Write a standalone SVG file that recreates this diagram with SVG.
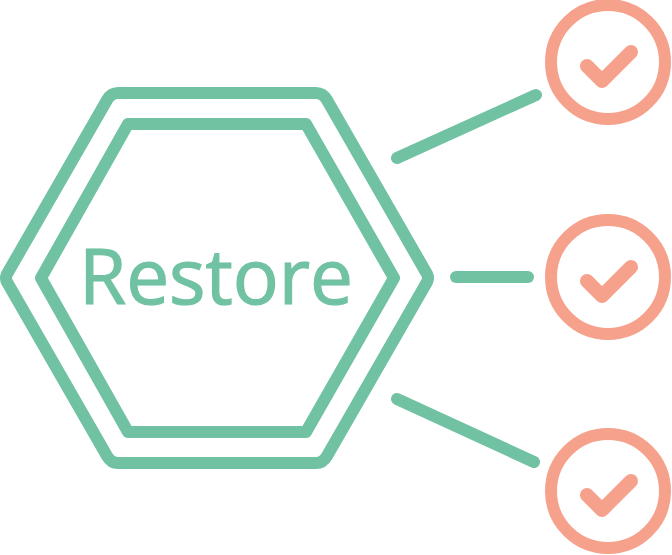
<svg xmlns="http://www.w3.org/2000/svg" width="672" height="555" viewBox="0 0 672 555">
<style>
.hex{fill:none;stroke:#70c2a2;stroke-width:12;stroke-linejoin:round}
.c{fill:none;stroke:#70c2a2;stroke-width:12;stroke-linecap:round}
.ring{fill:none;stroke:#f6a18b;stroke-width:12}
.tick{fill:none;stroke:#f6a18b;stroke-width:14;stroke-linecap:round;stroke-linejoin:round}
text{font-family:"Open Sans","Noto Sans",sans-serif;font-size:76.5px;fill:#70c2a2;stroke:#70c2a2;stroke-width:1.2}
</style>
<g id="hexagon">
<path class="hex" d="M118 93H316Q323 93 327 100L427 274Q429 278 427 282L327 456Q323 463 316 463H118Q111 463 107 456L7 282Q5 278 7 274L107 100Q111 93 118 93Z"/>
<path class="hex" d="M128 124H306L394 278L306 432H128L41 278Z"/>
<text x="216" y="304" text-anchor="middle">Restore</text>
</g>
<g id="connectors">
<path class="c" d="M397 158L536 95"/>
<path class="c" d="M456 277H528"/>
<path class="c" d="M397 399L534 462"/>
</g>
<g id="check1"><circle class="ring" cx="608" cy="62" r="57"/><path class="tick" d="M587 66L602 81L631 52"/></g>
<g id="check2"><circle class="ring" cx="608" cy="277" r="57"/><path class="tick" d="M587 281L602 296L631 267"/></g>
<g id="check3"><circle class="ring" cx="608" cy="491" r="57"/><path class="tick" d="M587 495L602 510L631 481"/></g>
</svg>
